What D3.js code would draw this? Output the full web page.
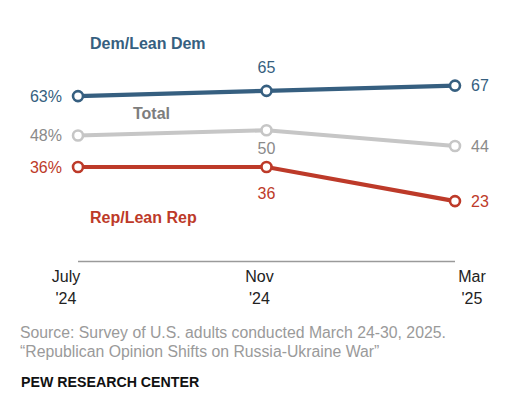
<!DOCTYPE html>
<html><head><meta charset="utf-8">
<script src="https://cdn.jsdelivr.net/npm/d3@7"></script>
<style>body{margin:0;background:#fff}</style>
</head><body>
<svg id="c" width="519" height="402"></svg>
<script>
const periods = ["July '24", "Nov '24", "Mar '25"];
const tickTop = ["July", "Nov", "Mar"];
const tickBottom = ["'24", "'24", "'25"];
const dem = [63, 65, 67];
const total = [48, 50, 44];
const rep = [36, 36, 23];

const svg = d3.select("#c");
const font = "'Liberation Sans', Arial, sans-serif";
const x = d3.scalePoint().domain(periods).range([78, 455]);
const y = d3.scaleLinear().domain([0, 67]).range([261.5, 85.6]);

const series = [
  {name: "Dem/Lean Dem", vals: dem, color: "#365f80", text: "#365f80"},
  {name: "Total", vals: total, color: "#c6c6c6", text: "#8a8a8a"},
  {name: "Rep/Lean Rep", vals: rep, color: "#bd3a29", text: "#bd3a29"}
];

// baseline
svg.append("line").attr("x1", x(periods[0])).attr("x2", x(periods[2]))
  .attr("y1", y(0)).attr("y2", y(0)).attr("stroke", "#9a9a9a").attr("stroke-width", 1.3);

const line = d3.line().x((d, i) => x(periods[i])).y(d => y(d));
series.forEach(s => {
  svg.append("path").datum(s.vals).attr("d", line).attr("fill", "none")
    .attr("stroke", s.color).attr("stroke-width", 4.2);
  svg.selectAll(null).data(s.vals).enter().append("circle")
    .attr("cx", (d, i) => x(periods[i])).attr("cy", d => y(d)).attr("r", 5)
    .attr("fill", "#fff").attr("stroke", s.color).attr("stroke-width", 2.6);
});

// value labels
const midOffs = [-24, 18, 26];
series.forEach((s, k) => {
  const g = svg.append("g").attr("font-family", font).attr("font-size", 16).attr("fill", s.text);
  g.append("text").attr("x", x(periods[0]) - 16).attr("y", y(s.vals[0])).attr("dy", "0.36em")
    .attr("text-anchor", "end").text(s.vals[0] + "%");
  g.append("text").attr("x", x(periods[1])).attr("y", y(s.vals[1]) + midOffs[k]).attr("dy", "0.36em")
    .attr("text-anchor", "middle").text(s.vals[1]);
  g.append("text").attr("x", x(periods[2]) + 16).attr("y", y(s.vals[2])).attr("dy", "0.36em")
    .attr("text-anchor", "start").text(s.vals[2]);
});

// series names
svg.append("text").attr("x", 90).attr("y", y(dem[0]) - 53).attr("dy", "0.36em")
  .attr("font-family", font).attr("font-weight", "bold").attr("font-size", 16)
  .attr("fill", series[0].text).text(series[0].name);
svg.append("text").attr("x", 133).attr("y", y(total[0]) - 22).attr("dy", "0.36em")
  .attr("font-family", font).attr("font-weight", "bold").attr("font-size", 16)
  .attr("fill", "#7d7d7d").text(series[1].name);
svg.append("text").attr("x", 90).attr("y", y(rep[0]) + 50).attr("dy", "0.36em")
  .attr("font-family", font).attr("font-weight", "bold").attr("font-size", 16)
  .attr("fill", series[2].text).text(series[2].name);

// x tick labels
const dxs = [-12, -7, 17];
periods.forEach((p, i) => {
  const t = svg.append("text").attr("font-family", font).attr("font-size", 16).attr("fill", "#222")
    .attr("text-anchor", "middle");
  t.append("tspan").attr("x", x(p) + dxs[i]).attr("y", 282).text(tickTop[i]);
  t.append("tspan").attr("x", x(p) + dxs[i]).attr("y", 304).text(tickBottom[i]);
});

// notes
svg.append("text").attr("x", 20).attr("y", 338).attr("font-family", font).attr("font-size", 15.8)
  .attr("fill", "#9a9a9a").text("Source: Survey of U.S. adults conducted March 24-30, 2025.");
svg.append("text").attr("x", 20).attr("y", 357).attr("font-family", font).attr("font-size", 15.8)
  .attr("fill", "#9a9a9a").text("\u201cRepublican Opinion Shifts on Russia-Ukraine War\u201d");
svg.append("text").attr("x", 21).attr("y", 386.5).attr("font-family", font).attr("font-size", 14.2)
  .attr("font-weight", "bold").attr("fill", "#111").text("PEW RESEARCH CENTER");
</script>
</body></html>
